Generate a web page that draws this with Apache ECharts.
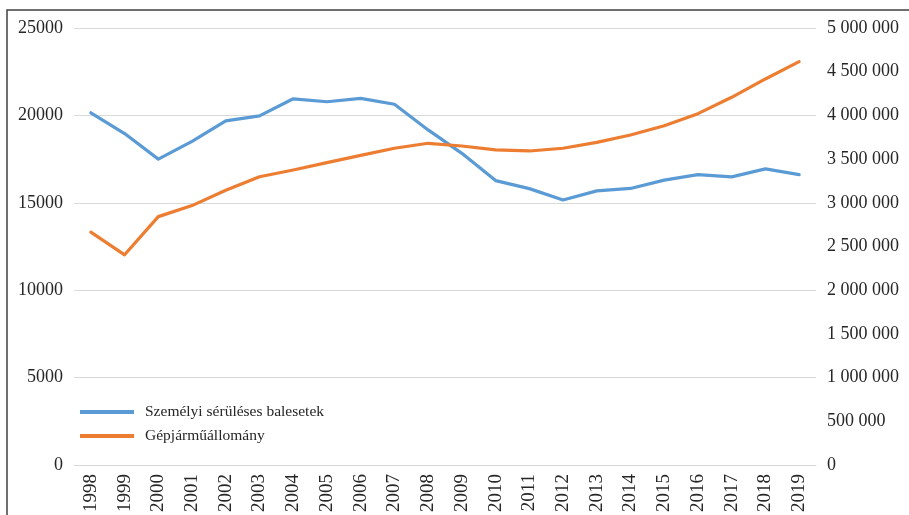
<!DOCTYPE html>
<html>
<head>
<meta charset="utf-8">
<script src="https://cdn.jsdelivr.net/npm/echarts@6/dist/echarts.min.js"></script>
<style>
  html, body { margin: 0; padding: 0; background: #fff; }
  #chart { width: 909px; height: 515px; }
</style>
</head>
<body>
<div id="chart"></div>
<script>
// years on the x axis
const years = ['1998','1999','2000','2001','2002','2003','2004','2005','2006','2007','2008',
  '2009','2010','2011','2012','2013','2014','2015','2016','2017','2018','2019'];
// Személyi sérüléses balesetek (left axis)
const balesetek = [20150, 18960, 17500, 18510, 19690, 19970, 20950, 20780, 20970, 20640, 19170,
  17830, 16270, 15810, 15160, 15680, 15820, 16300, 16610, 16480, 16940, 16610];
// Gépjárműállomány (right axis)
const allomany = [2665000, 2405000, 2842000, 2968000, 3143000, 3298000, 3375000, 3459000, 3543000, 3624000, 3681000,
  3650000, 3606000, 3593000, 3624000, 3692000, 3776000, 3882000, 4020000, 4207000, 4417000, 4615000];
const leftTicks = [0, 5000, 10000, 15000, 20000, 25000];

const font = '"Liberation Serif", "Times New Roman", serif';

let chart = echarts.init(document.getElementById('chart'));
chart.setOption({
  animation: false,
  textStyle: { fontFamily: font },
  graphic: [{
    type: 'rect',
    shape: { x: 7, y: 10, width: 1000, height: 600 },
    style: { fill: 'none', stroke: '#404040', lineWidth: 1.5 },
    silent: true
  }],
  grid: { left: 74, right: 93, top: 28, bottom: 50 },
  legend: {
    orient: 'vertical',
    left: 75,
    top: 399,
    itemWidth: 54,
    itemHeight: 4,
    itemGap: 8,
    icon: 'rect',
    textStyle: { fontFamily: font, fontSize: 15.5, color: '#262626', padding: [0, 0, 0, 6] },
    data: ['Személyi sérüléses balesetek', 'Gépjárműállomány']
  },
  xAxis: {
    type: 'category',
    data: years,
    boundaryGap: true,
    axisLine: { show: true, lineStyle: { color: '#d9d9d9', width: 1 } },
    axisTick: { show: false },
    axisLabel: { rotate: 90, interval: 0, fontSize: 19, color: '#262626', margin: 9, fontFamily: font }
  },
  yAxis: [
    {
      type: 'value',
      min: leftTicks[0],
      max: leftTicks[leftTicks.length - 1],
      interval: 5000,
      axisLine: { show: false },
      axisTick: { show: false },
      splitLine: { lineStyle: { color: '#d9d9d9', width: 1 } },
      axisLabel: { fontSize: 18, color: '#262626', margin: 11, fontFamily: font, formatter: v => String(v) }
    },
    {
      type: 'value',
      min: 0,
      max: 5000000,
      interval: 500000,
      axisLine: { show: false },
      axisTick: { show: false },
      splitLine: { show: false },
      axisLabel: {
        fontSize: 18, color: '#262626', margin: 11, fontFamily: font,
        formatter: v => String(v).replace(/\B(?=(\d{3})+(?!\d))/g, ' ')
      }
    }
  ],
  series: [
    {
      name: 'Személyi sérüléses balesetek',
      type: 'line',
      yAxisIndex: 0,
      data: balesetek,
      symbol: 'none',
      color: '#5B9BD5',
      lineStyle: { width: 3.2, cap: 'round', join: 'round' }
    },
    {
      name: 'Gépjárműállomány',
      type: 'line',
      yAxisIndex: 1,
      data: allomany,
      symbol: 'none',
      color: '#ED7D31',
      lineStyle: { width: 3.2, cap: 'round', join: 'round' }
    }
  ]
});
</script>
</body>
</html>
